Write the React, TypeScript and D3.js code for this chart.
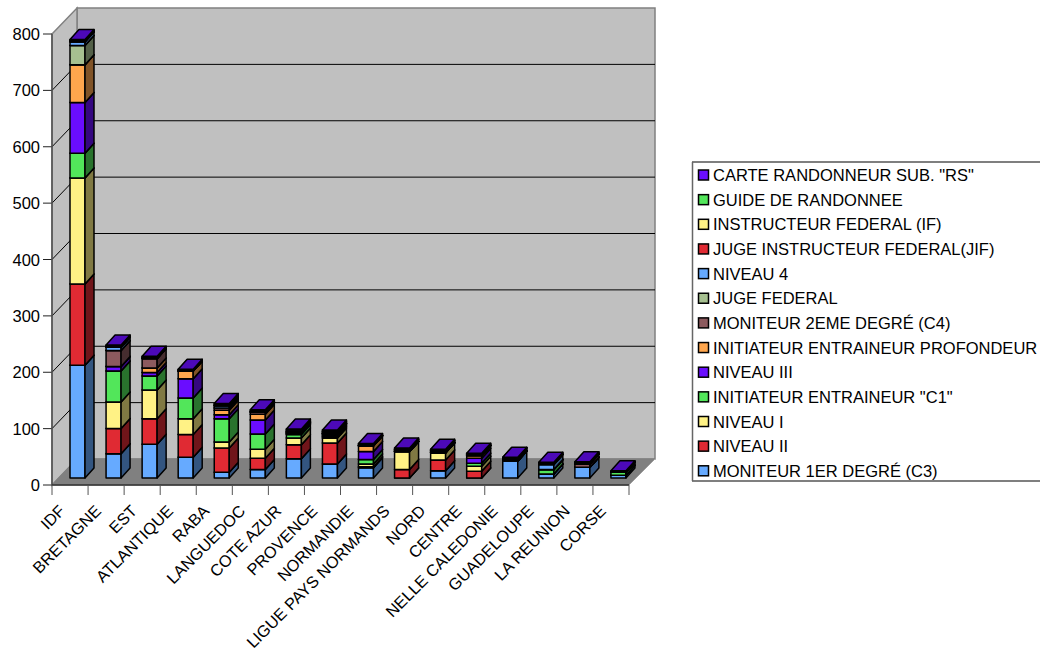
import React from "react";
import * as d3 from "d3";

const categories = ["IDF","BRETAGNE","EST","ATLANTIQUE","RABA","LANGUEDOC","COTE AZUR","PROVENCE","NORMANDIE","LIGUE PAYS NORMANDS","NORD","CENTRE","NELLE CALEDONIE","GUADELOUPE","LA REUNION","CORSE"];
const yTicks = [0,100,200,300,400,500,600,700,800];

const moniteur1 = [200,43,60,37,10,15,34,25,18,0,13,0,30,7,19,5];
const niveau2 = [144,45,45,40,43,20,25,37,2,15,19,12,0,0,0,0];
const niveau1 = [188,47,51,28,11,16,12,9,5,32,13,9,0,0,0,0];
const initiateurC1 = [44,55,25,37,41,27,6,2,8,0,0,5,0,8,0,5];
const niveau3 = [90,8,6,34,7,25,2,2,14,0,0,9,0,0,0,0];
const initiateurProf = [67,0,8,14,8,10,0,2,10,0,0,5,0,0,0,0];
const moniteur2 = [0,28,17,0,4,4,2,2,0,0,0,0,0,0,6,0];
const jugeFederal = [34,0,0,0,0,0,0,0,0,0,0,0,0,0,0,0];
const niveau4 = [7,6,0,0,4,0,0,0,0,0,0,0,2,9,0,0];
const jugeInstructeur = [0,0,0,0,0,0,2,0,0,2,2,0,2,0,0,0];
const instructeur = [0,0,0,0,0,0,0,2,0,2,2,0,2,0,0,0];
const guide = [2,2,2,2,2,2,2,2,2,0,0,2,0,2,2,1];
const carteRS = [2,2,2,1,2,2,2,2,2,2,2,2,1,2,2,2];

const seriesNames = ["MONITEUR 1ER DEGRÉ (C3)","NIVEAU II","NIVEAU I",'INITIATEUR ENTRAINEUR "C1"',"NIVEAU III","INITIATEUR ENTRAINEUR PROFONDEUR","MONITEUR 2EME DEGRÉ (C4)","JUGE FEDERAL","NIVEAU 4","JUGE INSTRUCTEUR FEDERAL(JIF)","INSTRUCTEUR FEDERAL (IF)","GUIDE DE RANDONNEE",'CARTE RANDONNEUR SUB. "RS"'];
const seriesValues = [moniteur1,niveau2,niveau1,initiateurC1,niveau3,initiateurProf,moniteur2,jugeFederal,niveau4,jugeInstructeur,instructeur,guide,carteRS];
const frontColors = ["#66aaff","#e02a33","#fff285","#52e65a","#6a0dff","#ffa64d","#8c5a5e","#a6c090","#66aaff","#e02a33","#fff285","#52e65a","#6a0dff"];
const FONT = '"Liberation Sans", Arial, sans-serif';
const FS = 16.5;

export default function App() {
  const left = 52, right = 629, bottom = 485;
  const wallDx = 25, wallDy = 26;
  const barDx = 9, barDy = 10, barW = 15, barLift = 7;
  const y = d3.scaleLinear().domain([0, 800]).range([bottom, 34]);
  const x = d3.scaleBand<string>().domain(categories).range([left, right]);
  const sideC = (c: string) => { const r = d3.rgb(c); return d3.rgb(r.r * .5, r.g * .5, r.b * .5).formatHex(); };
  const topC = (c: string) => { const r = d3.rgb(c); return d3.rgb(r.r * .72, r.g * .72, r.b * .72).formatHex(); };
  const stacks = d3.stack<number>().keys(seriesValues.map((_, i) => String(i)) as any)
    .value((_, k) => seriesValues[+k][_ as any])(categories.map((_, i) => i) as any);
  const legendItems = seriesNames.map((n, i) => ({ n, c: frontColors[i] })).reverse();
  return (
    <svg width={1040} height={652} style={{ position: "fixed", left: 0, top: 0, background: "#fff" }} fontFamily={FONT}>
      <polygon points={`${left + wallDx},${y(800) - wallDy} ${right + wallDx + 1},${y(800) - wallDy} ${right + wallDx + 1},${bottom - wallDy} ${left + wallDx},${bottom - wallDy}`} fill="#c0c0c0" stroke="#808080" strokeWidth={1.5} />
      <polygon points={`${left},${y(800)} ${left + wallDx},${y(800) - wallDy} ${left + wallDx},${bottom - wallDy} ${left},${bottom}`} fill="#c0c0c0" stroke="#808080" strokeWidth={1.5} />
      <polygon points={`${left},${bottom} ${right},${bottom} ${right + wallDx + 1},${bottom - wallDy} ${left + wallDx},${bottom - wallDy}`} fill="#808080" stroke="#808080" strokeWidth={1} />
      {yTicks.map(t => (
        <g key={t}>
          {t > 0 && t < 800 && <line x1={left + wallDx} x2={right + wallDx + 1} y1={y(t) - wallDy} y2={y(t) - wallDy} stroke="#000" strokeWidth={1} />}
          {t > 0 && t < 800 && <line x1={left} x2={left + wallDx} y1={y(t)} y2={y(t) - wallDy} stroke="#000" strokeWidth={1} />}
          <line x1={left - 9} x2={left} y1={y(t)} y2={y(t)} stroke="#222" strokeWidth={1} />
          <text x={left - 12} y={y(t) + 6} textAnchor="end" fontSize={FS} fill="#000">{t}</text>
        </g>
      ))}
      <line x1={left} x2={left} y1={y(800)} y2={bottom} stroke="#505050" strokeWidth={1.5} />
      <line x1={left} x2={right} y1={bottom} y2={bottom} stroke="#303030" strokeWidth={1.5} />
      <line x1={right} x2={right + wallDx + 1} y1={bottom} y2={bottom - wallDy} stroke="#a0a0a0" strokeWidth={1} />
      {[...categories.map(c => x(c)!), right].map((px, i) => (
        <line key={i} x1={px} x2={px} y1={bottom} y2={bottom + 10} stroke="#555" strokeWidth={1} />
      ))}
      {categories.map((c, ci) => {
        const bx = x(c)! + 18;
        return (
          <g key={c} stroke="#000" strokeWidth={1.5} strokeLinejoin="round">
            {stacks.map((s, si) => {
              const y0 = y(s[ci][0]) - barLift, y1 = y(s[ci][1]) - barLift;
              const col = frontColors[si];
              return (
                <g key={si}>
                  <rect x={bx} y={y1} width={barW} height={y0 - y1} fill={col} />
                  <polygon points={`${bx + barW},${y0} ${bx + barW + barDx},${y0 - barDy} ${bx + barW + barDx},${y1 - barDy} ${bx + barW},${y1}`} fill={sideC(col)} />
                  <polygon points={`${bx},${y1} ${bx + barDx},${y1 - barDy} ${bx + barW + barDx},${y1 - barDy} ${bx + barW},${y1}`} fill={topC(col)} />
                </g>
              );
            })}
          </g>
        );
      })}
      {categories.map(c => (
        <text key={c} transform={`translate(${x(c)! + 14},${bottom + 27}) rotate(-45)`} textAnchor="end" fontSize={16.3} fill="#000">{c}</text>
      ))}
      <line x1={692} x2={1040} y1={162} y2={162} stroke="#000" strokeWidth={1.2} />
      <line x1={692} x2={1040} y1={481} y2={481} stroke="#000" strokeWidth={1.2} />
      <line x1={692.5} x2={692.5} y1={162} y2={481} stroke="#666" strokeWidth={1.5} />
      {legendItems.map((it, i) => {
        const ly = 175 + i * 24.65;
        return (
          <g key={it.n}>
            <rect x={698.5} y={ly - 5} width={10} height={10} fill={it.c} stroke="#000" strokeWidth={1.5} />
            <text x={713} y={ly + 6} fontSize={FS} fill="#000">{it.n}</text>
          </g>
        );
      })}
    </svg>
  );
}
